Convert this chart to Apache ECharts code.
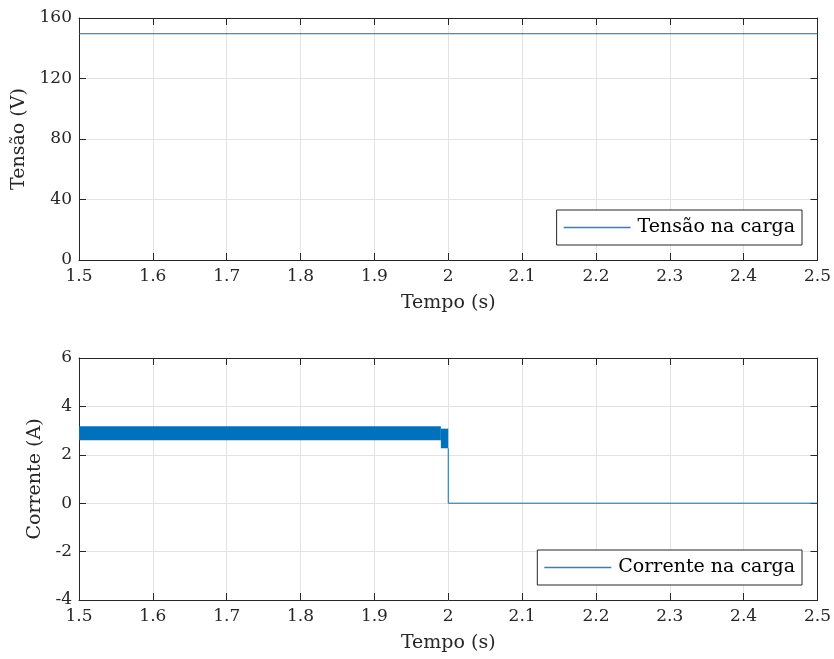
<!DOCTYPE html>
<html>
<head>
<meta charset="utf-8">
<script src="https://cdn.jsdelivr.net/npm/echarts@6/dist/echarts.min.js"></script>
<style>
  html, body { margin: 0; padding: 0; background: #fff; }
  #chart { width: 834px; height: 659px; }
</style>
</head>
<body>
<div id="chart"></div>
<script>
// Load voltage: a flat trace over the whole window
const voltageTime = [1.5, 2.5];
const voltageValue = [149.6, 149.6];

// Load current while switching: ripple envelope segments [t start, t end, min, max]
const currentBandStart = [1.5, 1.99];
const currentBandEnd = [1.99, 2.0];
const currentBandMin = [2.6, 2.27];
const currentBandMax = [3.18, 3.08];

// Load current after switch-off
const currentTime = [2.0, 2.0, 2.5];
const currentValue = [2.27, 0, 0];

const timeTicks = { min: 1.5, max: 2.5, interval: 0.1 };
const voltageTicks = { min: 0, max: 160, interval: 40 };
const currentTicks = { min: -4, max: 6, interval: 2 };

const FONT = 'DejaVu Serif';
const INK = '#262626';
const BLUE = '#0072BD';
const GRIDLINE = '#e3e3e3';

function mainX(gridIndex) {
  return {
    type: 'value', gridIndex, ...timeTicks, position: 'bottom',
    name: 'Tempo (s)', nameLocation: 'middle', nameGap: 34,
    nameTextStyle: { fontFamily: FONT, fontSize: 19, color: INK },
    axisLine: { onZero: false, lineStyle: { color: INK, width: 1 } },
    axisTick: { inside: true, length: 7, lineStyle: { color: INK } },
    axisLabel: { fontFamily: FONT, fontSize: 17, color: INK, margin: 8 },
    splitLine: { show: true, lineStyle: { color: GRIDLINE, width: 1 } }
  };
}
function mirrorX(gridIndex) {
  return {
    type: 'value', gridIndex, ...timeTicks, position: 'top',
    axisLine: { onZero: false, lineStyle: { color: INK, width: 1 } },
    axisTick: { inside: true, length: 7, lineStyle: { color: INK } },
    axisLabel: { show: false }, splitLine: { show: false }
  };
}
function mainY(gridIndex, ticks, name, gap) {
  return {
    type: 'value', gridIndex, ...ticks, position: 'left',
    name, nameLocation: 'middle', nameGap: gap, nameRotate: 90,
    nameTextStyle: { fontFamily: FONT, fontSize: 19, color: INK },
    axisLine: { show: true, onZero: false, lineStyle: { color: INK, width: 1 } },
    axisTick: { show: true, inside: true, length: 7, lineStyle: { color: INK } },
    axisLabel: { fontFamily: FONT, fontSize: 17, color: INK, margin: 7 },
    splitLine: { show: true, lineStyle: { color: GRIDLINE, width: 1 } }
  };
}
function mirrorY(gridIndex, ticks) {
  return {
    type: 'value', gridIndex, ...ticks, position: 'right',
    axisLine: { show: true, onZero: false, lineStyle: { color: INK, width: 1 } },
    axisTick: { show: true, inside: true, length: 7, lineStyle: { color: INK } },
    axisLabel: { show: false }, splitLine: { show: false }
  };
}
function legendBox(top, label) {
  return {
    right: 32, top, orient: 'horizontal',
    icon: 'rect', itemWidth: 67, itemHeight: 1.5, itemGap: 6,
    padding: [8, 7, 8, 7],
    borderColor: INK, borderWidth: 1, backgroundColor: '#fff',
    textStyle: { fontFamily: FONT, fontSize: 19, color: '#000', padding: [0, 0, 0, 2] },
    data: [{
      name: label,
      itemStyle: { color: BLUE, borderWidth: 0, opacity: 0.85 },
      lineStyle: { color: BLUE, width: 0 }
    }]
  };
}

const bandData = currentBandStart.map((t, i) =>
  [t, currentBandEnd[i], currentBandMin[i], currentBandMax[i]]);

const option = {
  animation: false,
  backgroundColor: '#fff',
  grid: [
    { left: 79, right: 15, top: 18, height: 242 },
    { left: 79, right: 15, top: 358, height: 242 }
  ],
  xAxis: [mainX(0), mirrorX(0), mainX(1), mirrorX(1)],
  yAxis: [
    mainY(0, voltageTicks, 'Tensão (V)', 46),
    mirrorY(0, voltageTicks),
    mainY(1, currentTicks, 'Corrente (A)', 28),
    mirrorY(1, currentTicks)
  ],
  legend: [
    legendBox(210, 'Tensão na carga'),
    legendBox(550, 'Corrente na carga')
  ],
  series: [
    {
      name: 'Tensão na carga', type: 'line', xAxisIndex: 0, yAxisIndex: 0,
      symbol: 'none', lineStyle: { color: BLUE, width: 1 }, itemStyle: { color: BLUE },
      data: voltageTime.map((t, i) => [t, voltageValue[i]])
    },
    {
      name: 'ripple', type: 'custom', xAxisIndex: 2, yAxisIndex: 2,
      encode: { x: [0, 1], y: [2, 3] },
      data: bandData,
      renderItem: function (params, api) {
        const p0 = api.coord([api.value(0), api.value(3)]);
        const p1 = api.coord([api.value(1), api.value(2)]);
        return {
          type: 'rect',
          shape: { x: p0[0], y: p0[1], width: p1[0] - p0[0], height: p1[1] - p0[1] },
          style: { fill: BLUE }
        };
      }
    },
    {
      name: 'Corrente na carga', type: 'line', xAxisIndex: 2, yAxisIndex: 2,
      symbol: 'none', lineStyle: { color: BLUE, width: 1 }, itemStyle: { color: BLUE },
      data: currentTime.map((t, i) => [t, currentValue[i]])
    }
  ]
};

const chart = echarts.init(document.getElementById('chart'), null, { renderer: 'canvas' });
chart.setOption(option);
</script>
</body>
</html>
